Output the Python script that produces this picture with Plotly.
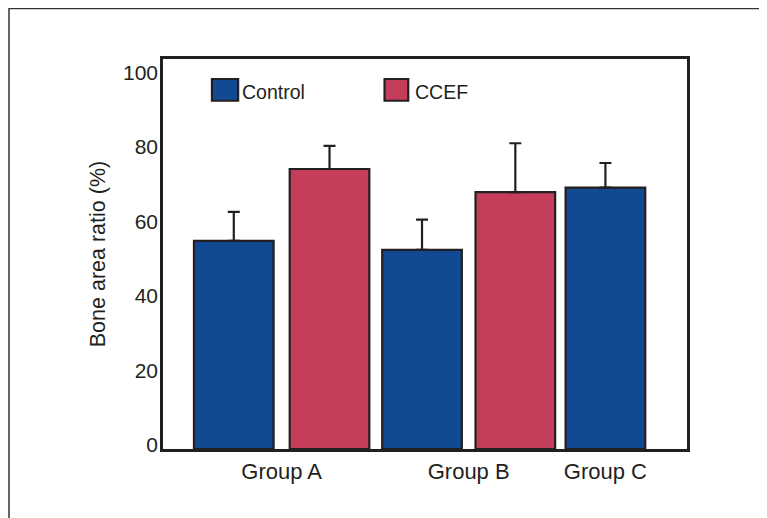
import plotly.graph_objects as go

# ---- data ----
groups = ["Group A", "Group B", "Group C"]
control_vals = [55.8, 53.4, 70.1]
control_err = [7.8, 8.1, 6.6]
ccef_vals = [75.1, 68.9]
ccef_err = [6.2, 13.1]
y_ticks = [0, 20, 40, 60, 80, 100]
series_names = ["Control", "CCEF"]

# ---- layout positions (bar-width units along x) ----
control_x = [0.88, 3.22, 5.50]
ccef_x = [2.07, 4.38]
group_x = [(control_x[0] + ccef_x[0]) / 2, (control_x[1] + ccef_x[1]) / 2, control_x[2]]

BLUE = "#114a92"
RED = "#c43d5b"
INK = "#231f20"
FONT = "Liberation Sans, Arial, sans-serif"

fig = go.Figure()
fig.add_trace(go.Bar(
    x=control_x, y=control_vals, width=0.99, name=series_names[0],
    marker=dict(color=BLUE, line=dict(color=INK, width=2.2)),
    error_y=dict(type="data", symmetric=False, array=control_err,
                 arrayminus=[0] * len(control_err), color=INK, thickness=2.2, width=6),
    showlegend=False,
))
fig.add_trace(go.Bar(
    x=ccef_x, y=ccef_vals, width=0.99, name=series_names[1],
    marker=dict(color=RED, line=dict(color=INK, width=2.2)),
    error_y=dict(type="data", symmetric=False, array=ccef_err,
                 arrayminus=[0] * len(ccef_err), color=INK, thickness=2.2, width=6),
    showlegend=False,
))

# custom legend boxes
for (x0, x1, tx), name, col in zip([(0.0934, 0.1434, 0.1476), (0.4228, 0.468, 0.478)],
                                   series_names, [BLUE, RED]):
    fig.add_shape(type="rect", xref="paper", yref="paper", x0=x0, x1=x1, y0=0.893, y1=0.9487,
                  fillcolor=col, line=dict(color=INK, width=2.2))
    fig.add_annotation(xref="paper", yref="paper", x=tx, y=0.9144, text=name, showarrow=False,
                       xanchor="left", yanchor="middle", font=dict(size=19.5, color=INK, family=FONT))

# outer frame (top and left edges)
fig.add_shape(type="path", xref="paper", yref="paper",
              path="M -0.2939 -0.3 L -0.2939 1.1295 L 1.3 1.1295",
              line=dict(color="#333333", width=1.5))

fig.update_layout(
    width=759, height=510,
    margin=dict(l=155, r=80, t=51, b=69),
    paper_bgcolor="white", plot_bgcolor="white",
    barmode="overlay",
    font=dict(family=FONT, size=21, color=INK),
    xaxis=dict(range=[0, 6.514], tickvals=group_x, ticktext=groups, showgrid=False,
               zeroline=False, showline=True, linecolor=INK, linewidth=2.5, mirror=True,
               ticks="", ticklabelstandoff=1, tickfont=dict(size=22)),
    yaxis=dict(range=[0, 104.6], tickvals=y_ticks, showgrid=False, zeroline=False,
               showline=True, linecolor=INK, linewidth=2.5, mirror=True, ticks="",
               ticklabelshift=-4, ticklabelstandoff=-2, tickfont=dict(size=21),
               title=dict(text="Bone area ratio (%)", standoff=12, font=dict(size=21.5))),
)

fig.write_html("out.html")
